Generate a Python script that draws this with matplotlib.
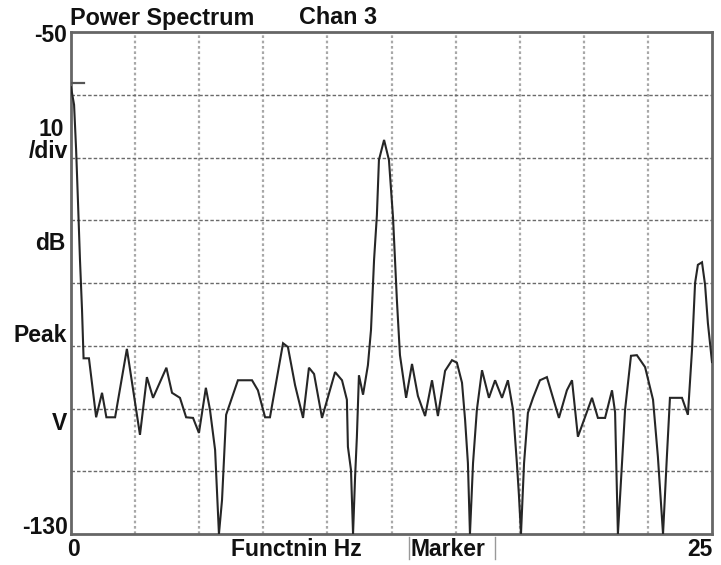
import matplotlib
matplotlib.use("Agg")
import matplotlib.pyplot as plt
import numpy as np

# Spectrum trace: frequency (Hz) and level (dB)
freq_hz = [
    0.00, 0.12, 0.20, 0.27, 0.35, 0.43, 0.49, 0.70, 0.98, 1.21, 1.38, 1.72,
    2.18, 2.69, 2.96, 3.20, 3.72, 3.94, 4.25, 4.49, 4.76, 4.99, 5.26, 5.42,
    5.62, 5.77, 5.89, 6.05, 6.51, 7.06, 7.29, 7.57, 7.76, 8.27, 8.46, 8.74,
    9.05, 9.28, 9.48, 9.79, 10.30, 10.57, 10.76, 10.80, 10.92, 11.00, 11.08,
    11.15, 11.23, 11.39, 11.58, 11.70, 11.82, 11.93, 12.01, 12.21, 12.40,
    12.56, 12.71, 12.83, 13.07, 13.30, 13.53, 13.81, 14.08, 14.31, 14.59,
    14.86, 15.05, 15.25, 15.37, 15.48, 15.56, 15.68, 15.83, 16.03, 16.30,
    16.54, 16.81, 17.04, 17.24, 17.39, 17.47, 17.55, 17.67, 17.82, 18.02,
    18.29, 18.56, 19.03, 19.34, 19.54, 19.77, 20.32, 20.55, 20.83, 21.10,
    21.22, 21.29, 21.33, 21.49, 21.61, 21.84, 22.07, 22.39, 22.70, 22.89,
    23.09, 23.24, 23.36, 23.83, 24.06, 24.22, 24.34, 24.45, 24.61, 24.73,
    24.84, 25.00,
]
level_db = [
    -58.8, -61.6, -68.8, -76.8, -86.3, -94.3, -102.0, -102.0, -111.4, -107.5,
    -111.4, -111.4, -100.5, -114.2, -105.0, -108.3, -103.5, -107.5, -108.3,
    -111.4, -111.5, -113.9, -106.7, -110.2, -116.6, -130.0, -124.6, -111.0,
    -105.5, -105.5, -107.1, -111.4, -111.4, -99.6, -100.2, -106.3, -111.5,
    -103.5, -104.5, -111.5, -104.2, -105.5, -108.6, -116.1, -119.8, -130.0,
    -120.9, -114.5, -104.7, -107.8, -103.1, -97.5, -86.3, -79.2, -70.4, -67.2,
    -70.4, -79.6, -92.7, -101.5, -108.3, -102.9, -108.0, -111.2, -105.5,
    -111.2, -104.0, -102.3, -102.7, -105.9, -111.8, -118.7, -130.0, -118.7,
    -110.2, -103.9, -108.3, -105.5, -108.3, -105.5, -110.2, -118.7, -123.8,
    -130.0, -118.7, -110.7, -108.3, -105.5, -105.0, -111.5, -107.1, -105.5,
    -114.5, -108.3, -111.5, -111.5, -107.1, -110.6, -123.0, -130.0, -118.7,
    -110.2, -101.6, -101.5, -103.4, -108.6, -117.7, -130.0, -117.7, -108.3,
    -108.3, -111.0, -100.7, -90.0, -87.1, -86.7, -90.3, -96.4, -102.6,
]

# Peak marker level and its short span
peak_marker_db = -58.1
peak_marker_span = [0.0, 0.5]

y_top, y_bottom, db_per_div = -50, -130, 10
x_left, x_right = 0, 25
side_labels = ["10", "/div", "dB", "Peak", "V"]

W, H = 721, 565
fig = plt.figure(figsize=(W / 100, H / 100), dpi=100)
fig.patch.set_facecolor("white")

L, R, T, B = 71, 712, 32, 534
ax = fig.add_axes([L / W, 1 - B / H, (R - L) / W, (B - T) / H])
ax.set_xlim(x_left, x_right)
ax.set_ylim(y_bottom, y_top)

# Grid: vertical lines light and dotted, horizontal ones darker dashed
for xv in np.arange(x_left + 2.5, x_right, 2.5):
    ax.axvline(xv, color="#a8a8a8", lw=1.6, ls=(0, (1.2, 1.2)), zorder=1)
for yv in np.arange(y_bottom + db_per_div, y_top, db_per_div):
    ax.axhline(yv, color="#6a6a6a", lw=1.0, ls=(0, (2.5, 1.5)), zorder=1)

ax.plot(freq_hz, level_db, color="#262626", lw=1.5, solid_joinstyle="miter",
        zorder=3, clip_on=True)
ax.plot(peak_marker_span, [peak_marker_db] * 2, color="#555555", lw=1.6,
        zorder=3)

ax.set_xticks([])
ax.set_yticks([])
for s in ax.spines.values():
    s.set_color("#666666")
    s.set_linewidth(2.0)

font = dict(family="Liberation Sans", fontweight="bold", color="#111111")


def px_text(x, y, s, size=16.5, ha="left", va="center", **kw):
    fig.text(x / W, 1 - y / H, s, ha=ha, va=va, fontsize=size, **font, **kw)


px_text(70, 18, "Power Spectrum", size=16.8)
px_text(299, 18, "Chan 3", size=16.8)

px_text(67, 35, "-50", ha="right")
px_text(64, 130, side_labels[0], ha="right")
px_text(68, 152, side_labels[1], ha="right")
px_text(65, 243, side_labels[2], ha="right")
px_text(67, 335, side_labels[3], ha="right")
px_text(67, 423, side_labels[4], ha="right")
px_text(68, 528, "-130", ha="right")

px_text(67, 550, "0")
px_text(231, 550, "Functnin Hz")
px_text(411, 550, "Marker")
px_text(712, 550, "25", ha="right")

# thin bracket strokes around the marker readout
for xb in (409, 495):
    fig.add_artist(plt.Line2D([xb / W, xb / W], [1 - 537 / H, 1 - 559 / H],
                              color="#999999", lw=1.0))

fig.savefig("out.png", dpi=100, facecolor="white")
